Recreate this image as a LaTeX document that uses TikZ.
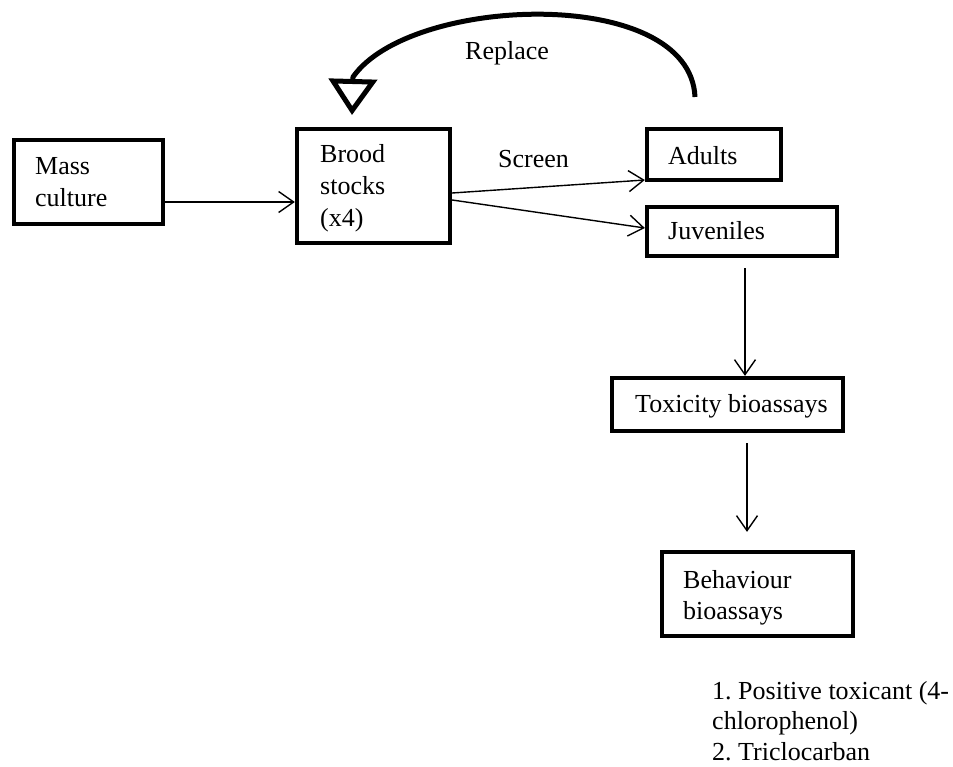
\documentclass[tikz,border=0pt]{standalone}
\usepackage{fontspec}
\setmainfont{Liberation Serif}
\usetikzlibrary{arrows.meta}
\begin{document}
\frenchspacing
\begin{tikzpicture}[x=1pt,y=-1pt,
  box/.style={draw, line width=4.3pt, rectangle, inner sep=0pt},
  lbl/.style={anchor=base west, inner sep=0pt, font=\fontsize{26}{31}\selectfont},
  flow/.style={line width=1.4pt, -{Straight Barb[length=15pt,width=21pt]}},
  loop/.style={line width=5pt, -{Triangle[open,length=36pt,width=48pt]}}]
\useasboundingbox (0,0) rectangle (953,767);

% boxes
\node[box, minimum width=149pt, minimum height=84pt] (mass) at (88.5,182) {};
\node[box, minimum width=153pt, minimum height=114pt] (brood) at (373.5,186) {};
\node[box, minimum width=134pt, minimum height=51pt] (adults) at (714,154.5) {};
\node[box, minimum width=190pt, minimum height=49pt] (juv) at (742,231.5) {};
\node[box, minimum width=231pt, minimum height=53pt] (tox) at (727.5,404.5) {};
\node[box, minimum width=191pt, minimum height=84pt] (beh) at (757.5,594) {};

% box texts
\node[lbl] (t1) at (35,175) {Mass};
\node[lbl] (t2) at (35,207) {culture};
\node[lbl] (t3) at (320,163) {Brood};
\node[lbl] (t4) at (320,195) {stocks};
\node[lbl] (t5) at (320,227) {(x4)};
\node[lbl] (t6) at (668,165) {Adults};
\node[lbl] (t7) at (668,240) {Juveniles};
\node[lbl] (t8) at (635,412) {Toxicity bioassays};
\node[lbl] (t9) at (683,588) {Behaviour};
\node[lbl] (t10) at (683,619) {bioassays};

% free labels
\node[lbl] (replace) at (465,60) {Replace};
\node[lbl] (screen) at (498,168) {Screen};
\node[lbl] (l1) at (712,699) {1. Positive toxicant (4-};
\node[lbl] (l2) at (712,729) {chlorophenol)};
\node[lbl] (l3) at (712,760) {2. Triclocarban};

% connectors
\draw[flow] ([yshift=-20pt]mass.east) -- ([yshift=-16pt]brood.west);
\draw[flow] ([yshift=-7pt]brood.east) -- ([yshift=-25.5pt]adults.west);
\draw[flow] ([yshift=-14pt]brood.east) -- ([yshift=3.5pt]juv.west);
\draw[flow] ([xshift=3pt,yshift=-10pt]juv.south) -- ([xshift=17.5pt]tox.north);
\draw[flow] ([xshift=19.5pt,yshift=-10pt]tox.south) -- ([xshift=-10.5pt,yshift=18pt]beh.north);

% replacement loop from adults back to brood stocks
\coordinate (rs) at (695,97);
\coordinate (rb) at (353,77);
\coordinate (re) at (352,115);
\draw[loop] (rs) .. controls (690,-15) and (410,-5) .. (rb) -- (re);
\end{tikzpicture}
\end{document}
